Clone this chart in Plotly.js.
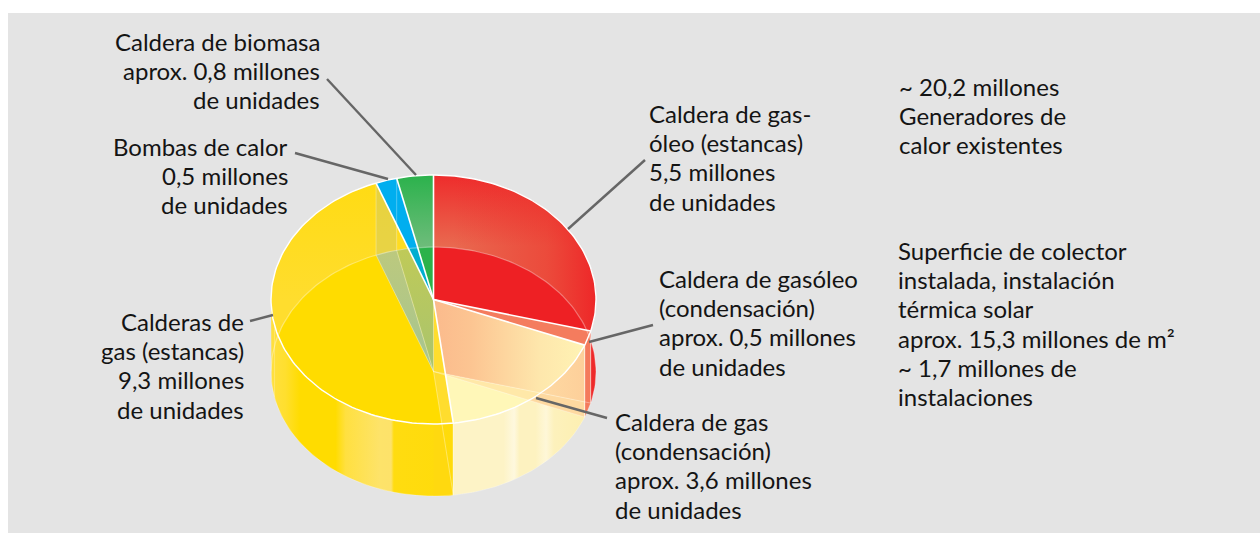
<!DOCTYPE html>
<html><head><meta charset="utf-8">
<script src="https://cdn.plot.ly/plotly-3.0.1.min.js"></script>
<style>html,body{margin:0;padding:0;background:#fff}#c{width:1260px;height:533px}</style>
</head><body><div id="c"></div>
<script>
// slice data: labelled values (millions of units) and the sweep as drawn in the picture (degrees, clockwise from 12 o'clock)
const sliceNames=["Caldera de gasóleo (estancas)","Caldera de gasóleo (condensación)","Caldera de gas (condensación)","Calderas de gas (estancas)","Bombas de calor","Caldera de biomasa"];
const sliceValues=[5.5,0.5,3.6,9.3,0.5,0.8];
const sweepDeg=[104.7,6.8,61.5,166.3,7.6,13.1];
const RED=0,ORA=1,CRE=2,YEL=3,BLU=4,GRE=5;

const W=1260,H=533;
const CX=433.5,TOPY=299.5,FLOORY=371.5,RX=162.5,RY=124.5;
const edges=[0];sweepDeg.forEach(s=>edges.push(edges[edges.length-1]+s));

const rad=d=>d*Math.PI/180;
const pt=(t,cy)=>[CX+RX*Math.sin(rad(t)),cy-RY*Math.cos(rad(t))];
function arc(a,b,cy){const n=Math.max(2,Math.ceil(Math.abs(b-a)/1.5));const o=[];for(let i=0;i<=n;i++)o.push(pt(a+(b-a)*i/n,cy));return o;}
const wedge=(i,cy)=>[[CX,cy],...arc(edges[i],edges[i+1],cy)];
const band=(a,b)=>[...arc(a,b,TOPY),...arc(b,a,FLOORY)];
const rect=(x0,x1,y0=0,y1=H)=>[[x0,y0],[x1,y0],[x1,y1],[x0,y1]];
const area=p=>p.reduce((s,q,i)=>{const r=p[(i+1)%p.length];return s+q[0]*r[1]-r[0]*q[1];},0);
function clip(sub,conv){
  const sgn=area(conv)>0?1:-1;let out=sub;
  for(let i=0;i<conv.length&&out.length;i++){
    const A=conv[i],B=conv[(i+1)%conv.length];
    const side=p=>sgn*((B[0]-A[0])*(p[1]-A[1])-(B[1]-A[1])*(p[0]-A[0]));
    const inp=out;out=[];
    for(let k=0;k<inp.length;k++){
      const P=inp[k],Q=inp[(k+1)%inp.length],sp=side(P),sq=side(Q);
      if(sp>=0)out.push(P);
      if((sp>=0)!==(sq>=0)){const t=sp/(sp-sq);out.push([P[0]+(Q[0]-P[0])*t,P[1]+(Q[1]-P[1])*t]);}
    }
  }
  return out;
}
const traces=[];
function fillPoly(poly,fill){
  if(!poly.length)return;
  const c=[...poly,poly[0]];
  const t={x:c.map(p=>p[0]),y:c.map(p=>p[1]),mode:"lines",fill:"toself",line:{width:0,color:"rgba(0,0,0,0)"},hoverinfo:"skip",showlegend:false};
  if(typeof fill==="string")t.fillcolor=fill;else t.fillgradient=fill;
  traces.push(t);
}
function stroke(pts,color,width){
  traces.push({x:pts.map(p=>p[0]),y:pts.map(p=>p[1]),mode:"lines",line:{color,width},hoverinfo:"skip",showlegend:false});
}
const grad=(type,start,stop,colorscale)=>({type,start,stop,colorscale});

// 1. outer walls
fillPoly(band(edges[RED],edges[RED+1]),"#ee2a2a");
fillPoly(band(edges[ORA],edges[ORA+1]),"#f47a5c");
fillPoly(band(edges[CRE],edges[CRE+1]),grad("horizontal",453,586,[[0,"#fdf3c6"],[0.38,"#fdf3c6"],[0.46,"#fef8de"],[0.5,"#fdf2c0"],[0.62,"#fdf2c0"],[0.7,"#fef7d8"],[0.76,"#fdf1bc"],[1,"#fdefb0"]]));
fillPoly(band(edges[YEL],270),grad("horizontal",271,453,[[0,"#ffe040"],[0.08,"#ffdf2e"],[0.16,"#ffdc00"],[0.355,"#ffdc00"],[0.41,"#ffe040"],[0.6,"#fde36a"],[0.66,"#fde26a"],[0.675,"#ffdc10"],[1,"#ffdb0a"]]));

// 2. floor seen through the front wall
const wallLimit=rect(300,585);
const peachWall=grad("horizontal",480,585,[[0,"#fee3ad"],[0.6,"#fed9a2"],[1,"#fdcf9a"]]);
fillPoly(clip(wedge(RED,FLOORY),wallLimit),peachWall);
fillPoly(clip(wedge(ORA,FLOORY),wallLimit),"#fed9a0");
fillPoly(clip(wedge(YEL,FLOORY),rect(CX,470)),"#ffd90f");

// 3. top surface
fillPoly(wedge(RED,TOPY),grad("vertical",175,246,[[0,"#ee2c2c"],[1,"#e9694f"]]));
fillPoly(wedge(RED,TOPY),grad("horizontal",CX+20,596,[[0,"rgba(238,40,40,0)"],[0.65,"rgba(238,45,40,0.5)"],[1,"rgba(238,35,38,0.95)"]]));
fillPoly(wedge(ORA,TOPY),"#f47c5e");
fillPoly(wedge(CRE,TOPY),"#fff7b8");
fillPoly(wedge(YEL,TOPY),grad("vertical",175,300,[[0,"#ffdb12"],[1,"#ffdd2e"]]));
fillPoly(wedge(BLU,TOPY),"#00aeef");
fillPoly(wedge(GRE,TOPY),grad("vertical",175,246,[[0,"#2bb24c"],[1,"#6dbc7a"]]));

// ghost of the back wall through the yellow top
fillPoly(clip(wedge(YEL,TOPY),rect(pt(edges[BLU],TOPY)[0],pt(edges[GRE],TOPY)[0])),"rgba(205,200,110,0.45)");

// 4. floor seen through the top surface
const tops=i=>wedge(i,TOPY), floors=i=>wedge(i,FLOORY);
const redPeach=grad("horizontal",CX,586,[[0,"#fbba8c"],[0.25,"#fcc592"],[0.7,"#fee7ac"],[1,"#fff3b4"]]);
fillPoly(clip(floors(RED),tops(RED)),"#ee2024");
fillPoly(clip(floors(RED),tops(CRE)),redPeach);
fillPoly(clip(floors(ORA),tops(CRE)),"#ffe8a8");
fillPoly(clip(floors(YEL),tops(CRE)),"#ffd21c");
fillPoly(clip(floors(YEL),tops(YEL)),"#ffdc00");
fillPoly(clip(floors(BLU),tops(YEL)),grad("vertical",250,371,[[0,"#bcc97e"],[1,"#a6c590"]]));
fillPoly(clip(floors(GRE),tops(YEL)),grad("vertical",250,371,[[0,"#bfca58"],[1,"#a9c46e"]]));
fillPoly(clip(floors(BLU),tops(BLU)),"#00aed0");
fillPoly(clip(floors(GRE),tops(BLU)),"#00aed0");
fillPoly(clip(floors(BLU),tops(GRE)),"#00aec4");
fillPoly(clip(floors(GRE),tops(GRE)),"#2bb24a");

// 5. faint construction lines: floor ellipse, floor radii, wall edges
const faint="rgba(255,255,255,0.35)";
stroke(arc(-90,90,FLOORY),faint,1.2);
edges.slice(0,6).forEach(e=>stroke([[CX,FLOORY],pt(e,FLOORY)],faint,1));
[edges[YEL+1],edges[BLU+1]].forEach(e=>stroke([pt(e,TOPY),pt(e,FLOORY)],"rgba(255,255,255,0.3)",1));
stroke([pt(edges[CRE+1],TOPY),pt(edges[CRE+1],FLOORY)],"rgba(255,255,255,0.75)",1);
stroke([pt(edges[ORA+1],TOPY),pt(edges[ORA+1],FLOORY)],"rgba(255,255,255,0.7)",1);
stroke([pt(edges[ORA],TOPY),pt(edges[ORA],FLOORY)],"rgba(255,255,255,0.5)",1);
stroke([pt(258,TOPY),pt(258,FLOORY)],"rgba(255,255,255,0.25)",1);
stroke(arc(90,270,FLOORY),"rgba(255,255,255,0.25)",1);

// 6. top outline
sweepDeg.forEach((s,i)=>stroke([[CX,TOPY],pt(edges[i],TOPY)],"#ffffff",1.6));
stroke(arc(0,360,TOPY),"#ffffff",1.4);

// 7. leader lines
const leaders=[[[327,79],[416,175]],[[295,153],[388,179]],[[568,229],[645,160]],[[589,342],[653,325]],[[536,398],[607,418]],[[250,321],[273,315]]];
leaders.forEach(l=>stroke(l,"#666666",2.4));

// labels: one entry per text block, first-line centre y
const labels=[
 {t:["Caldera de biomasa","aprox. 0,8 millones","de unidades"],x:321,y:41.5,a:"right"},
 {t:["Bombas de calor","0,5 millones","de unidades"],x:289,y:146.5,a:"right"},
 {t:["Calderas de","gas (estancas)","9,3 millones","de unidades"],x:245,y:321.5,a:"right"},
 {t:["Caldera de gas-","óleo (estancas)","5,5 millones","de unidades"],x:648,y:113.5,a:"left"},
 {t:["Caldera de gasóleo","(condensación)","aprox. 0,5 millones","de unidades"],x:658,y:278.5,a:"left"},
 {t:["Caldera de gas","(condensación)","aprox. 3,6 millones","de unidades"],x:614,y:421.5,a:"left"},
 {t:["~ 20,2 millones","Generadores de","calor existentes"],x:898,y:86.5,a:"left"},
 {t:["Superficie de colector","instalada, instalación","térmica solar","aprox. 15,3 millones de m²","~ 1,7 millones de","instalaciones"],x:897,y:250.5,a:"left"}
];
const LINE=29.2;
const annotations=[];
labels.forEach(l=>l.t.forEach((s,i)=>annotations.push({text:s,x:l.x,y:l.y+i*LINE,xref:"x",yref:"y",xanchor:l.a,yanchor:"middle",align:l.a,showarrow:false,borderpad:0,font:{family:"Lato, 'Open Sans', sans-serif",size:24,color:"#141414"}})));

const layout={
  width:W,height:H,margin:{l:0,r:0,t:0,b:0},paper_bgcolor:"#ffffff",plot_bgcolor:"#ffffff",showlegend:false,hovermode:false,
  xaxis:{range:[0,W],visible:false,fixedrange:true},
  yaxis:{range:[H,0],visible:false,fixedrange:true},
  shapes:[{type:"rect",layer:"below",xref:"x",yref:"y",x0:8,x1:W,y0:13,y1:H,fillcolor:"#e4e4e4",line:{width:0}}],
  annotations
};
Plotly.newPlot("c",traces,layout,{displayModeBar:false,staticPlot:true});
</script></body></html>
